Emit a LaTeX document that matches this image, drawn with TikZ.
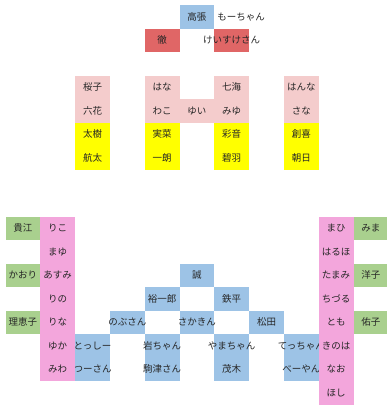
\documentclass[tikz,border=0pt]{standalone}
\usepackage{fontspec}
\newfontfamily\jpfont{Noto Sans CJK JP}
\definecolor{cellblue}{HTML}{9DC3E6}
\definecolor{cellred}{HTML}{E06666}
\definecolor{cellrose}{HTML}{F4CCCC}
\definecolor{cellyellow}{HTML}{FFFF00}
\definecolor{cellgreen}{HTML}{A9D08E}
\definecolor{cellpink}{HTML}{F3A6DC}
\newcommand{\ctr}[1]{\makebox[0pt]{#1}}

\begin{document}
\begin{tikzpicture}[x=34.8pt,y=-23.5pt,
  cell/.style={minimum width=34.8pt,minimum height=23.5pt,inner sep=0pt,outer sep=0pt,
    font={\jpfont\fontsize{9.5}{11}\selectfont},text=black!85},
  bluecell/.style={cell,fill=cellblue},
  redcell/.style={cell,fill=cellred},
  rosecell/.style={cell,fill=cellrose},
  yellowcell/.style={cell,fill=cellyellow},
  greencell/.style={cell,fill=cellgreen},
  pinkcell/.style={cell,fill=cellpink}]
  \useasboundingbox (0pt,0pt) rectangle (387pt,-405pt);
  \begin{scope}[shift={(5.5pt,-5pt)}]
  % top
  \node[bluecell] (takahari) at (5.5,0.5) {\ctr{高張}};
  \node[cell] (mochan) at (6.5,0.5) {\makebox[34.8pt][l]{\hspace{3pt}もーちゃん}};
  \node[redcell] (toru) at (4.5,1.5) {\ctr{徹}};
  \node[redcell] (keisuke) at (6.5,1.5) {\ctr{けいすけさん}};

  % middle
  \node[rosecell] (sakurako) at (2.5,3.5) {\ctr{桜子}};
  \node[rosecell] (rikka) at (2.5,4.5) {\ctr{六花}};
  \node[yellowcell] (taiki) at (2.5,5.5) {\ctr{太樹}};
  \node[yellowcell] (kota) at (2.5,6.5) {\ctr{航太}};
  \node[rosecell] (hana) at (4.5,3.5) {\ctr{はな}};
  \node[rosecell] (wako) at (4.5,4.5) {\ctr{わこ}};
  \node[yellowcell] (mina) at (4.5,5.5) {\ctr{実菜}};
  \node[yellowcell] (ichiro) at (4.5,6.5) {\ctr{一朗}};
  \node[rosecell] (yui) at (5.5,4.5) {\ctr{ゆい}};
  \node[rosecell] (nanami) at (6.5,3.5) {\ctr{七海}};
  \node[rosecell] (miyu) at (6.5,4.5) {\ctr{みゆ}};
  \node[yellowcell] (ayane) at (6.5,5.5) {\ctr{彩音}};
  \node[yellowcell] (aoha) at (6.5,6.5) {\ctr{碧羽}};
  \node[rosecell] (hanna) at (8.5,3.5) {\ctr{はんな}};
  \node[rosecell] (sana) at (8.5,4.5) {\ctr{さな}};
  \node[yellowcell] (soki) at (8.5,5.5) {\ctr{創喜}};
  \node[yellowcell] (asahi) at (8.5,6.5) {\ctr{朝日}};

  % bottom
  \node[greencell] (takae) at (0.5,9.5) {\ctr{貴江}};
  \node[greencell] (kaori) at (0.5,11.5) {\ctr{かおり}};
  \node[greencell] (rieko) at (0.5,13.5) {\ctr{理恵子}};
  \node[greencell] (mima) at (10.5,9.5) {\ctr{みま}};
  \node[greencell] (yoko) at (10.5,11.5) {\ctr{洋子}};
  \node[greencell] (yuko) at (10.5,13.5) {\ctr{佑子}};

  \node[bluecell] (makoto) at (5.5,11.5) {\ctr{誠}};
  \node[bluecell] (yuichiro) at (4.5,12.5) {\ctr{裕一郎}};
  \node[bluecell] (teppei) at (6.5,12.5) {\ctr{鉄平}};
  \node[bluecell] (nobusan) at (3.5,13.5) {\ctr{のぶさん}};
  \node[bluecell] (sakakin) at (5.5,13.5) {\ctr{さかきん}};
  \node[bluecell] (matsuda) at (7.5,13.5) {\ctr{松田}};
  \node[bluecell] (toshi) at (2.5,14.5) {\ctr{とっしー}};
  \node[bluecell] (tsusan) at (2.5,15.5) {\ctr{つーさん}};
  \node[bluecell] (iwachan) at (4.5,14.5) {\ctr{岩ちゃん}};
  \node[bluecell] (komatsu) at (4.5,15.5) {\ctr{駒津さん}};
  \node[bluecell] (yamachan) at (6.5,14.5) {\ctr{やまちゃん}};
  \node[bluecell] (motegi) at (6.5,15.5) {\ctr{茂木}};
  \node[bluecell] (tetchan) at (8.5,14.5) {\ctr{てっちゃん}};
  \node[bluecell] (beyan) at (8.5,15.5) {\ctr{べーやん}};

  \node[pinkcell] (riko) at (1.5,9.5) {\ctr{りこ}};
  \node[pinkcell] (mayu) at (1.5,10.5) {\ctr{まゆ}};
  \node[pinkcell] (asumi) at (1.5,11.5) {\ctr{あすみ}};
  \node[pinkcell] (rino) at (1.5,12.5) {\ctr{りの}};
  \node[pinkcell] (rina) at (1.5,13.5) {\ctr{りな}};
  \node[pinkcell] (yuka) at (1.5,14.5) {\ctr{ゆか}};
  \node[pinkcell] (miwa) at (1.5,15.5) {\ctr{みわ}};

  \node[pinkcell] (mahi) at (9.5,9.5) {\ctr{まひ}};
  \node[pinkcell] (haruho) at (9.5,10.5) {\ctr{はるほ}};
  \node[pinkcell] (tamami) at (9.5,11.5) {\ctr{たまみ}};
  \node[pinkcell] (chizuru) at (9.5,12.5) {\ctr{ちづる}};
  \node[pinkcell] (tomo) at (9.5,13.5) {\ctr{とも}};
  \node[pinkcell] (kinoha) at (9.5,14.5) {\ctr{きのは}};
  \node[pinkcell] (nao) at (9.5,15.5) {\ctr{なお}};
  \node[pinkcell] (hoshi) at (9.5,16.5) {\ctr{ほし}};
  \end{scope}
\end{tikzpicture}
\end{document}
